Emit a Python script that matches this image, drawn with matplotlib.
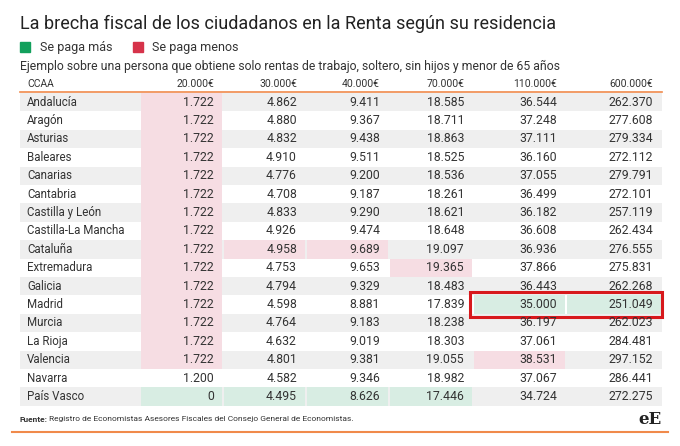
import matplotlib.pyplot as plt
from matplotlib.patches import Rectangle

regions = ["Andalucía", "Aragón", "Asturias", "Baleares", "Canarias", "Cantabria",
           "Castilla y León", "Castilla-La Mancha", "Cataluña", "Extremadura", "Galicia",
           "Madrid", "Murcia", "La Rioja", "Valencia", "Navarra", "País Vasco"]
columns = ["20.000€", "30.000€", "40.000€", "70.000€", "110.000€", "600.000€"]
c20 = ["1.722"] * 15 + ["1.200", "0"]
c30 = ["4.862", "4.880", "4.832", "4.910", "4.776", "4.708", "4.833", "4.926", "4.958",
       "4.753", "4.794", "4.598", "4.764", "4.632", "4.801", "4.582", "4.495"]
c40 = ["9.411", "9.367", "9.438", "9.511", "9.200", "9.187", "9.290", "9.474", "9.689",
       "9.653", "9.329", "8.881", "9.183", "9.019", "9.381", "9.346", "8.626"]
c70 = ["18.585", "18.711", "18.863", "18.525", "18.536", "18.261", "18.621", "18.648",
       "19.097", "19.365", "18.483", "17.839", "18.238", "18.303", "19.055", "18.982", "17.446"]
c110 = ["36.544", "37.248", "37.111", "36.160", "37.055", "36.499", "36.182", "36.608",
        "36.936", "37.866", "36.443", "35.000", "36.197", "37.061", "38.531", "37.067", "34.724"]
c600 = ["262.370", "277.608", "279.334", "272.112", "279.791", "272.101", "257.119", "262.434",
        "276.555", "275.831", "262.268", "251.049", "262.023", "284.481", "297.152", "286.441", "272.275"]
data = [c20, c30, c40, c70, c110, c600]

# highlighted cells: (row, col) -> 'more' (green) or 'less' (red)
highlights = {(r, 0): "less" for r in range(15)}
highlights.update({(8, 1): "less", (8, 2): "less", (9, 3): "less", (14, 4): "less",
                   (11, 4): "more", (11, 5): "more",
                   (16, 0): "more", (16, 1): "more", (16, 2): "more", (16, 3): "more"})

GREEN, RED = "#12a05c", "#d6334a"
GREEN_BG, RED_BG = "#d8ede3", "#f6dde3"
ORANGE = "#f08a4b"

fig = plt.figure(figsize=(6.8, 4.46), dpi=100)
ax = fig.add_axes([0, 0, 1, 1])
ax.set_xlim(0, 680)
ax.set_ylim(446, 0)
ax.axis("off")

ax.text(20, 24, "La brecha fiscal de los ciudadanos en la Renta según su residencia",
        fontsize=13, color="#222222", va="center", family="Roboto")
ax.add_patch(Rectangle((20, 42), 10, 10, color=GREEN))
ax.text(40, 47, "Se paga más", fontsize=9, va="center", color="#333333", family="Roboto")
ax.add_patch(Rectangle((133, 42), 10, 10, color=RED))
ax.text(152, 47, "Se paga menos", fontsize=9, va="center", color="#333333", family="Roboto")
ax.text(20, 66, "Ejemplo sobre una persona que obtiene solo rentas de trabajo, soltero, sin hijos y menor de 65 años",
        fontsize=8.8, va="center", color="#333333", family="Roboto")

col_left = [141, 224, 307, 390, 474, 567]
col_right = [223, 306, 389, 473, 566, 662]
top, rh = 93, 18.4
ax.text(27, 84, "CCAA", fontsize=7.5, va="center", color="#333333", family="Roboto")
for j, name in enumerate(columns):
    ax.text(col_right[j] - 9, 84, name, fontsize=7.5, va="center", ha="right",
            color="#333333", family="Roboto")
ax.plot([20, 662], [92, 92], color=ORANGE, lw=1.2)

for i, reg in enumerate(regions):
    y = top + i * rh
    if i % 2 == 0:
        ax.add_patch(Rectangle((20, y), 642, rh, color="#efefef", lw=0))
    ax.text(27, y + rh / 2, reg, fontsize=8.3, va="center", color="#333333", family="Roboto")
    for j in range(6):
        kind = highlights.get((i, j))
        if kind:
            ax.add_patch(Rectangle((col_left[j], y), col_right[j] - col_left[j] - 1, rh,
                                   color=GREEN_BG if kind == "more" else RED_BG, lw=0))
        ax.text(col_right[j] - 9, y + rh / 2, data[j][i], fontsize=8.8, va="center",
                ha="right", color="#333333", family="Roboto")

# red frame around Madrid's top brackets
ax.add_patch(Rectangle((470, top + 11 * rh - 3), 192, rh + 6, fill=False,
                       edgecolor="#d7191c", lw=2.2))

ax.text(20, 419, "Fuente:", fontsize=6, va="center", weight="bold", color="#333333", family="Roboto")
ax.text(49, 419, "Registro de Economistas Asesores Fiscales del Consejo General de Economistas.",
        fontsize=6, va="center", color="#333333", family="Roboto")
ax.text(662, 420, "eE", fontsize=12, va="center", ha="right", color="#222222", family="DejaVu Serif",
        weight="bold")
ax.plot([12, 668], [432, 432], color=ORANGE, lw=1.5)

fig.savefig("out.png", dpi=100, facecolor="white")
